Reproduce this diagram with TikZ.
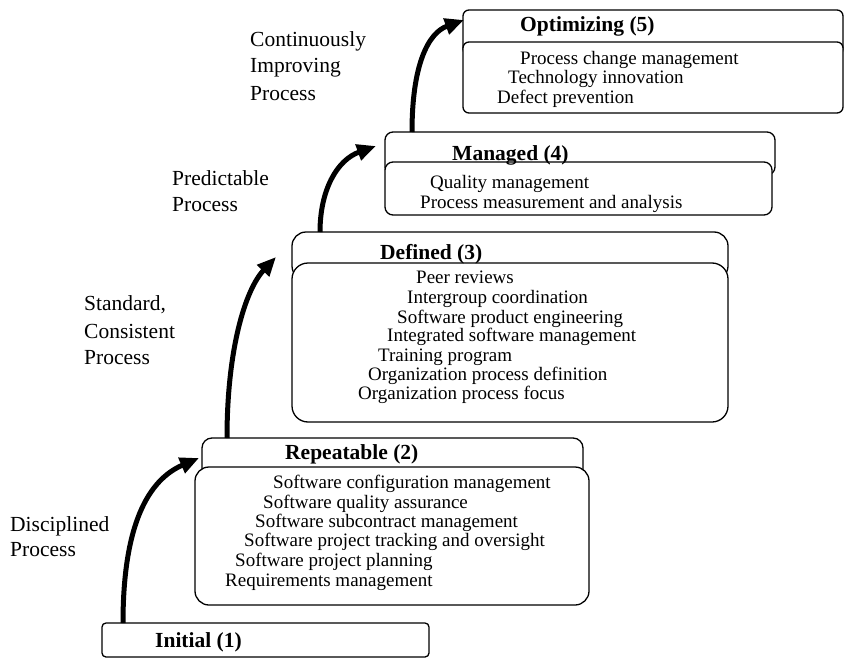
\documentclass[tikz,border=0pt]{standalone}
\usepackage{fontspec}
\setmainfont{Liberation Serif}
\usetikzlibrary{arrows.meta}
\begin{document}
\begin{tikzpicture}[x=1pt,y=-1pt,
  titlebox/.style={draw,fill=white,line width=1.3pt,rectangle,inner sep=0pt},
  itembox/.style={draw,fill=white,line width=1.3pt,rectangle,inner sep=0pt},
  item/.style={anchor=base west,inner sep=0pt,font=\fontsize{19}{20}\selectfont},
  ttl/.style={anchor=base west,inner sep=0pt,font=\fontsize{21.5}{23}\selectfont\bfseries},
  side/.style={anchor=base west,inner sep=0pt,font=\fontsize{21.5}{23}\selectfont},
  step arrow/.style={line width=5pt,-{Triangle[length=19pt,width=16pt]}}]
\useasboundingbox (0,0) rectangle (846,661);

% Level 1
\node[titlebox,rounded corners=4pt,minimum width=327pt,minimum height=34pt] (init) at (265.5,640) {};
\node[ttl] (initt) at (155,647) {Initial (1)};

% Level 2
\node[titlebox,rounded corners=10pt,minimum width=381pt,minimum height=42pt] (rept) at (392.5,459) {};
\node[itembox,rounded corners=14pt,minimum width=394pt,minimum height=138pt] (repb) at (392,536) {};
\node[ttl] (rept1) at (285,459) {Repeatable (2)};
\node[item] (r1) at (273,488) {Software configuration management};
\node[item] (r2) at (263,508) {Software quality assurance};
\node[item] (r3) at (255,527) {Software subcontract management};
\node[item] (r4) at (244,546) {Software project tracking and oversight};
\node[item] (r5) at (235,566) {Software project planning};
\node[item] (r6) at (225,586) {Requirements management};

% Level 3
\node[titlebox,rounded corners=14pt,minimum width=436pt,minimum height=48pt] (deft) at (510,256) {};
\node[itembox,rounded corners=16pt,minimum width=436pt,minimum height=159pt] (defb) at (510,342.5) {};
\node[ttl] (deft1) at (380,259) {Defined (3)};
\node[item] (d1) at (416,283) {Peer reviews};
\node[item] (d2) at (407,303) {Intergroup coordination};
\node[item] (d3) at (397,323) {Software product engineering};
\node[item] (d4) at (387,341) {Integrated software management};
\node[item] (d5) at (378,361) {Training program};
\node[item] (d6) at (368,380) {Organization process definition};
\node[item] (d7) at (358,399) {Organization process focus};

% Level 4
\node[titlebox,rounded corners=8pt,minimum width=390pt,minimum height=43pt] (mant) at (580,153.5) {};
\node[itembox,rounded corners=8pt,minimum width=387pt,minimum height=53pt] (manb) at (578.5,188.5) {};
\node[ttl] (mant1) at (452,160) {Managed (4)};
\node[item] (m1) at (430,188) {Quality management};
\node[item] (m2) at (420,208) {Process measurement and analysis};

% Level 5
\node[titlebox,rounded corners=6pt,minimum width=380pt,minimum height=45pt] (optt) at (653,32.5) {};
\node[itembox,rounded corners=6pt,minimum width=380pt,minimum height=71pt] (optb) at (653,77.5) {};
\node[ttl] (optt1) at (520,32) {Optimizing (5)};
\node[item] (o1) at (520,64) {Process change management};
\node[item] (o2) at (508,83) {Technology innovation};
\node[item] (o3) at (497,103) {Defect prevention};

% Process labels beside the steps
\node[side] (s1a) at (10,531) {Disciplined};
\node[side] (s1b) at (10,556) {Process};
\node[side] (s2a) at (84,310) {Standard,};
\node[side] (s2b) at (84,338) {Consistent};
\node[side] (s2c) at (84,364) {Process};
\node[side] (s3a) at (172,185) {Predictable};
\node[side] (s3b) at (172,211) {Process};
\node[side] (s4a) at (250,47) {Continuously};
\node[side] (s4b) at (250,73) {Improving};
\node[side] (s4c) at (250,100) {Process};

% Step arrows between the levels
\coordinate (a1s) at (123,623);
\coordinate (a1e) at (199,458);
\coordinate (a2s) at (227,438);
\coordinate (a2e) at (276,257);
\coordinate (a3s) at (320,232);
\coordinate (a3e) at (376,146);
\coordinate (a4s) at (412,132);
\coordinate (a4e) at (464,20);
\draw[step arrow] (a1s) .. controls (123,525) and (148,480) .. (a1e);
\draw[step arrow] (a2s) .. controls (227,350) and (245,290) .. (a2e);
\draw[step arrow] (a3s) .. controls (320,190) and (337,160) .. (a3e);
\draw[step arrow] (a4s) .. controls (412,65) and (428,33) .. (a4e);
\end{tikzpicture}
\end{document}
